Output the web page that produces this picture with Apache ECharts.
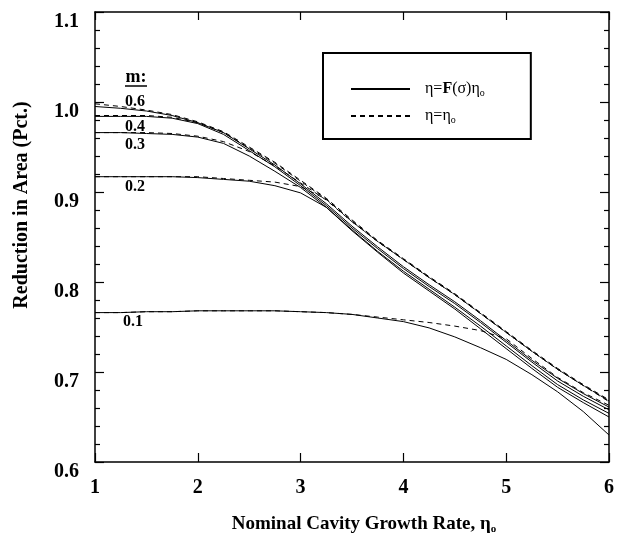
<!DOCTYPE html>
<html>
<head>
<meta charset="utf-8">
<script src="https://cdn.jsdelivr.net/npm/echarts@6/dist/echarts.min.js"></script>
<style>
  html, body { margin: 0; padding: 0; background: #fff; }
  #chart { width: 617px; height: 538px; }
</style>
</head>
<body>
<div id="chart"></div>
<script>
// nominal cavity growth rate (x)
var xs = [1, 1.25, 1.5, 1.75, 2, 2.25, 2.5, 2.75, 3, 3.25, 3.5, 3.75, 4, 4.25, 4.5, 4.75, 5, 5.25, 5.5, 5.75, 6];

// eta = F(sigma) eta_o  (solid)
var solid06 = [0.995, 0.993, 0.990, 0.985, 0.977, 0.966, 0.948, 0.930, 0.909, 0.887, 0.862, 0.839, 0.817, 0.797, 0.778, 0.757, 0.735, 0.713, 0.693, 0.676, 0.661];
var solid04 = [0.984, 0.984, 0.984, 0.982, 0.976, 0.964, 0.946, 0.928, 0.907, 0.885, 0.860, 0.837, 0.815, 0.795, 0.776, 0.755, 0.733, 0.711, 0.690, 0.673, 0.658];
var solid03 = [0.966, 0.966, 0.965, 0.964, 0.961, 0.954, 0.940, 0.923, 0.905, 0.883, 0.858, 0.834, 0.812, 0.792, 0.772, 0.751, 0.729, 0.707, 0.686, 0.669, 0.654];
var solid02 = [0.917, 0.917, 0.917, 0.917, 0.916, 0.914, 0.912, 0.907, 0.899, 0.883, 0.857, 0.833, 0.810, 0.790, 0.770, 0.748, 0.726, 0.704, 0.683, 0.666, 0.650];
var solid01 = [0.766, 0.766, 0.767, 0.767, 0.768, 0.768, 0.768, 0.768, 0.767, 0.766, 0.764, 0.760, 0.756, 0.749, 0.739, 0.727, 0.714, 0.697, 0.678, 0.656, 0.630];

// eta = eta_o  (dashed)
var dash06 = [0.998, 0.995, 0.991, 0.986, 0.978, 0.967, 0.950, 0.933, 0.913, 0.893, 0.869, 0.846, 0.826, 0.806, 0.787, 0.766, 0.745, 0.724, 0.704, 0.686, 0.669];
var dash04 = [0.985, 0.985, 0.985, 0.983, 0.977, 0.966, 0.949, 0.932, 0.912, 0.892, 0.868, 0.845, 0.825, 0.805, 0.786, 0.765, 0.744, 0.723, 0.703, 0.685, 0.668];
var dash03 = [0.966, 0.966, 0.966, 0.965, 0.962, 0.956, 0.945, 0.929, 0.910, 0.891, 0.867, 0.845, 0.825, 0.805, 0.786, 0.765, 0.744, 0.723, 0.703, 0.685, 0.668];
var dash02 = [0.917, 0.917, 0.917, 0.917, 0.917, 0.915, 0.913, 0.911, 0.906, 0.892, 0.867, 0.845, 0.825, 0.805, 0.786, 0.765, 0.744, 0.723, 0.703, 0.685, 0.667];
var dash01 = [0.766, 0.766, 0.767, 0.767, 0.768, 0.768, 0.768, 0.768, 0.767, 0.766, 0.764, 0.761, 0.758, 0.755, 0.751, 0.746, 0.737, 0.715, 0.694, 0.677, 0.663];

var serif = "'Liberation Serif', 'Times New Roman', serif";

function pairs(vals) {
  return xs.map(function (x, i) { return [x, vals[i]]; });
}

function curve(name, vals, dashed) {
  return {
    name: name,
    type: 'line',
    data: pairs(vals),
    symbol: 'none',
    smooth: false,
    silent: true,
    itemStyle: { color: '#000' },
    lineStyle: {
      color: '#000',
      width: 1,
      type: dashed ? [5, 4] : 'solid'
    }
  };
}

var chart = echarts.init(document.getElementById('chart'), null, { renderer: 'canvas' });

var axisLine = { show: true, lineStyle: { color: '#000', width: 1.5 } };
var tickLine = { color: '#000', width: 1.2 };
var tickLabel = { color: '#000', fontFamily: serif, fontWeight: 'bold', fontSize: 20 };

var option = {
  animation: false,
  backgroundColor: '#fff',
  grid: { left: 95, right: 5, top: 12, bottom: 76 },
  legend: {
    orient: 'vertical',
    left: 323,
    top: 53,
    selectedMode: false,
    itemWidth: 59,
    itemHeight: 10,
    itemGap: 10,
    padding: [28, 46, 14, 27],
    borderColor: '#000',
    borderWidth: 2,
    itemStyle: { opacity: 0 },
    data: ['solid', 'dashed'],
    formatter: function (name) {
      return name === 'solid' ? '{t|η=}{b|F}{t|(σ)η}{s|o}' : '{t|η=η}{s|o}';
    },
    textStyle: {
      color: '#000',
      fontFamily: serif,
      fontSize: 16,
      padding: [0, 0, 0, 10],
      rich: {
        t: { fontFamily: serif, fontSize: 16, color: '#000' },
        b: { fontFamily: serif, fontSize: 16, fontWeight: 'bold', color: '#000' },
        s: { fontFamily: serif, fontSize: 10, color: '#000', padding: [8, 0, 0, 0] }
      }
    }
  },
  xAxis: [
    {
      type: 'value', min: 1, max: 6, interval: 1, position: 'bottom',
      axisLine: axisLine,
      axisTick: { inside: true, length: 9, lineStyle: tickLine },
      axisLabel: Object.assign({ margin: 16 }, tickLabel),
      splitLine: { show: false }
    },
    {
      type: 'value', min: 1, max: 6, interval: 1, position: 'top',
      axisLine: axisLine,
      axisTick: { inside: true, length: 8, lineStyle: tickLine },
      axisLabel: { show: false },
      splitLine: { show: false }
    }
  ],
  yAxis: [
    {
      type: 'value', min: 0.6, max: 1.1, interval: 0.1, position: 'left',
      axisLine: axisLine,
      axisTick: { inside: true, length: 9, lineStyle: tickLine },
      minorTick: { show: true, splitNumber: 5, length: 5, lineStyle: tickLine },
      axisLabel: Object.assign({
        margin: 16,
        verticalAlign: 'top',
        formatter: function (v) { return v.toFixed(1); }
      }, tickLabel),
      splitLine: { show: false }
    },
    {
      type: 'value', min: 0.6, max: 1.1, interval: 0.1, position: 'right',
      axisLine: axisLine,
      axisTick: { inside: true, length: 9, lineStyle: tickLine },
      minorTick: { show: true, splitNumber: 5, length: 5, lineStyle: tickLine },
      axisLabel: { show: false },
      splitLine: { show: false }
    }
  ],
  series: [
    curve('solid', solid06, false),
    curve('dashed', dash06, true),
    curve('solid', solid04, false),
    curve('dashed', dash04, true),
    curve('solid', solid03, false),
    curve('dashed', dash03, true),
    curve('solid', solid02, false),
    curve('dashed', dash02, true),
    curve('solid', solid01, false),
    curve('dashed', dash01, true)
  ],
  graphic: [
    {
      type: 'text', x: 22, y: 205, rotation: Math.PI / 2,
      style: {
        text: 'Reduction in Area (Pct.)', x: 0, y: 0,
        align: 'center', verticalAlign: 'middle',
        font: 'bold 20px ' + serif, fill: '#000'
      }
    },
    {
      type: 'text', x: 364, y: 524,
      style: {
        text: '{t|Nominal Cavity Growth Rate, η}{s|o}', x: 0, y: 0,
        align: 'center', verticalAlign: 'middle',
        rich: {
          t: { font: 'bold 19px ' + serif, fill: '#000' },
          s: { font: 'bold 11px ' + serif, fill: '#000', padding: [10, 0, 0, 0] }
        }
      }
    },
    { type: 'text', x: 136, y: 77, style: { text: 'm:', align: 'center', verticalAlign: 'middle', font: 'bold 18px ' + serif, fill: '#000' } },
    { type: 'line', shape: { x1: 125, y1: 86, x2: 147, y2: 86 }, style: { stroke: '#000', lineWidth: 1.5 } },
    { type: 'text', x: 135, y: 102, style: { text: '0.6', align: 'center', verticalAlign: 'middle', font: 'bold 16px ' + serif, fill: '#000' } },
    { type: 'text', x: 135, y: 127, style: { text: '0.4', align: 'center', verticalAlign: 'middle', font: 'bold 16px ' + serif, fill: '#000' } },
    { type: 'text', x: 135, y: 145, style: { text: '0.3', align: 'center', verticalAlign: 'middle', font: 'bold 16px ' + serif, fill: '#000' } },
    { type: 'text', x: 135, y: 187, style: { text: '0.2', align: 'center', verticalAlign: 'middle', font: 'bold 16px ' + serif, fill: '#000' } },
    { type: 'text', x: 133, y: 322, style: { text: '0.1', align: 'center', verticalAlign: 'middle', font: 'bold 16px ' + serif, fill: '#000' } }
  ]
};

chart.setOption(option);
</script>
</body>
</html>
